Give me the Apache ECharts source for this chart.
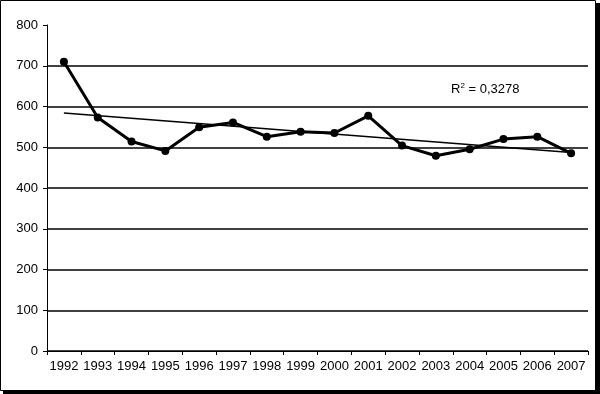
<!DOCTYPE html>
<html>
<head>
<meta charset="utf-8">
<script src="https://cdn.jsdelivr.net/npm/echarts@6/dist/echarts.min.js"></script>
<style>
html,body{margin:0;padding:0;background:#fff;}
#c{width:600px;height:394px;}
</style>
</head>
<body>
<div id="c"></div>
<script>
const years = ['1992','1993','1994','1995','1996','1997','1998','1999','2000','2001','2002','2003','2004','2005','2006','2007'];
const values = [710, 573, 514, 491, 549, 561, 526, 538, 535, 577, 504, 479, 495, 520, 526, 485];
const trendStart = 584;
const trendEnd = 487;
const yTicks = [0, 100, 200, 300, 400, 500, 600, 700, 800];
const r2Label = '0,3278';

const trendData = years.map((y, i) => i === 0 ? trendStart : (i === years.length - 1 ? trendEnd : null));
const font = 'Liberation Sans, Arial, sans-serif';

const chart = echarts.init(document.getElementById('c'), null, {renderer: 'canvas'});
chart.setOption({
  animation: false,
  backgroundColor: 'transparent',
  grid: {left: 47, right: 12, top: 25, bottom: 43, containLabel: false},
  xAxis: {
    type: 'category',
    data: years,
    boundaryGap: true,
    axisLine: {lineStyle: {color: '#000', width: 1}},
    axisTick: {show: true, length: 4, lineStyle: {color: '#000'}},
    axisLabel: {color: '#000', fontSize: 13, fontFamily: font, margin: 9, interval: 0},
    splitLine: {show: false}
  },
  yAxis: {
    type: 'value',
    min: yTicks[0],
    max: yTicks[yTicks.length - 1],
    interval: yTicks[1] - yTicks[0],
    axisLine: {show: true, lineStyle: {color: '#000', width: 1}},
    axisTick: {show: true, length: 4, lineStyle: {color: '#000'}},
    axisLabel: {color: '#000', fontSize: 13, fontFamily: font, margin: 9},
    splitLine: {show: true, showMaxLine: false, lineStyle: {color: '#000', width: 1.5}}
  },
  graphic: [
    {type: 'rect', z: -20, silent: true, shape: {x: 3, y: 3, width: 597, height: 391}, style: {fill: '#000'}},
    {type: 'rect', z: -19, silent: true, shape: {x: 0.5, y: 0.5, width: 595, height: 390}, style: {fill: '#fff', stroke: '#000', lineWidth: 1}},
    {
      type: 'text', z: 10, left: 451, top: 82,
      style: {
        text: 'R{sup|2} = ' + r2Label,
        font: '13px ' + font,
        fill: '#000',
        rich: {sup: {fontSize: 8, verticalAlign: 'top', padding: [0, 0, 6, 0], fill: '#000'}}
      }
    }
  ],
  series: [
    {
      type: 'line',
      data: values,
      symbol: 'circle',
      symbolSize: 8,
      lineStyle: {color: '#000', width: 3},
      itemStyle: {color: '#000'},
      z: 3
    },
    {
      type: 'line',
      data: trendData,
      connectNulls: true,
      symbol: 'none',
      lineStyle: {color: '#000', width: 1.5},
      z: 4
    }
  ]
});
</script>
</body>
</html>
